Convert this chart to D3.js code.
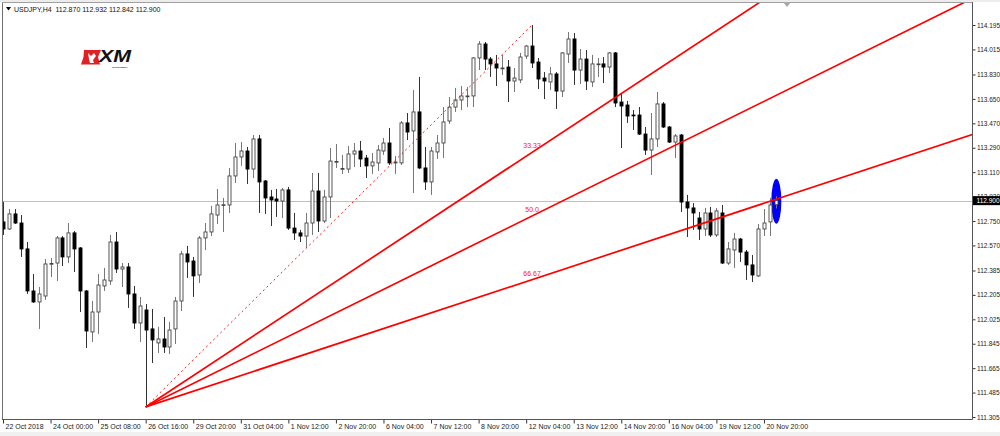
<!DOCTYPE html>
<html><head><meta charset="utf-8">
<script src="https://cdn.jsdelivr.net/npm/d3@7"></script>
<style>
html,body{margin:0;padding:0;background:#fff;overflow:hidden}
svg{display:block}
text{font-family:"Liberation Sans",Arial,sans-serif}
</style>
</head><body>
<svg id="c" width="1000" height="436"></svg>
<script>
// ---------------- DATA ----------------
const symbol = "USDJPY,H4";
const opens = [
112.743,112.691,112.802,112.735,112.544,112.234,112.153,112.197,112.433,112.440,
112.625,112.485,112.662,112.551,112.234,111.932,112.079,112.271,112.308,112.595,
112.396,112.411,112.212,111.998,112.094,111.954,111.851,111.880,111.821,111.954,
112.160,112.507,112.455,112.352,112.625,112.669,112.794,112.865,112.868,113.082,
113.222,113.266,113.133,113.355,113.045,112.927,112.912,112.897,112.979,112.698,
112.662,112.639,112.735,112.971,112.750,112.927,113.185,113.133,113.133,113.244,
113.266,113.214,113.156,113.178,113.266,113.325,113.178,113.178,113.473,113.414,
113.554,113.141,113.038,113.259,113.325,113.487,113.590,113.642,113.668,113.672,
113.952,114.055,113.944,113.908,113.874,113.885,113.782,113.790,113.966,114.040,
113.922,113.804,113.775,113.834,113.708,113.981,114.092,113.863,113.944,113.775,
113.904,113.908,113.885,113.989,113.627,113.605,113.531,113.531,113.391,113.273,
113.355,113.613,113.443,113.332,113.384,112.890,112.846,112.772,112.691,112.809,
112.647,112.809,112.440,112.536,112.617,112.521,112.426,112.345,112.691,112.743,
112.870];
const highs = [
112.890,112.838,112.838,112.794,112.595,112.359,112.263,112.470,112.477,112.639,
112.639,112.735,112.676,112.558,112.241,112.160,112.359,112.404,112.647,112.669,
112.440,112.440,112.271,112.190,112.138,112.101,111.969,112.042,112.005,112.190,
112.529,112.566,112.485,112.639,112.735,112.861,112.986,112.920,113.141,113.325,
113.332,113.296,113.384,113.384,113.052,112.979,112.986,112.993,113.001,112.809,
112.684,112.809,113.104,113.104,112.979,113.288,113.318,113.237,113.303,113.325,
113.340,113.237,113.251,113.310,113.362,113.436,113.229,113.487,113.546,113.716,
113.812,113.296,113.296,113.384,113.590,113.664,113.731,113.745,113.738,113.959,
114.077,114.070,113.959,113.974,113.974,113.937,113.878,113.989,114.048,114.195,
113.952,113.848,113.885,113.848,113.996,114.143,114.136,114.018,114.011,113.974,
113.952,113.959,113.996,113.996,113.694,113.635,113.568,113.590,113.443,113.546,
113.701,113.627,113.450,113.391,113.391,112.942,112.883,112.816,112.846,112.853,
112.846,112.868,112.595,112.662,112.625,112.536,112.499,112.728,112.838,112.920,
112.932];
const lows = [
112.647,112.684,112.728,112.485,112.212,112.146,111.954,112.168,112.337,112.308,
112.418,112.440,112.374,112.079,111.814,111.858,111.917,112.234,112.278,112.367,
112.263,112.109,111.954,111.858,111.379,111.703,111.777,111.777,111.769,111.843,
112.086,112.330,112.190,112.293,112.536,112.639,112.728,112.669,112.809,113.030,
113.156,113.023,113.067,112.809,112.802,112.713,112.780,112.772,112.684,112.610,
112.595,112.551,112.647,112.669,112.735,112.772,113.141,113.097,113.104,113.148,
113.148,113.067,113.097,113.119,113.237,113.163,113.097,113.163,113.347,112.956,
113.133,112.979,112.942,113.207,113.214,113.465,113.554,113.568,113.590,113.590,
113.863,113.863,113.812,113.745,113.826,113.627,113.701,113.767,113.944,113.878,
113.723,113.649,113.716,113.576,113.664,113.915,113.753,113.760,113.716,113.738,
113.812,113.767,113.841,113.590,113.288,113.473,113.421,113.384,113.237,113.089,
113.296,113.436,113.325,113.214,112.816,112.632,112.684,112.610,112.639,112.632,
112.632,112.433,112.426,112.404,112.448,112.315,112.300,112.337,112.639,112.639,
112.842];
const closes = [
112.691,112.802,112.735,112.544,112.234,112.153,112.212,112.433,112.437,112.625,
112.485,112.662,112.544,112.234,111.939,112.079,112.278,112.315,112.595,112.396,
112.411,112.212,111.998,112.123,111.946,111.873,111.880,111.821,111.946,112.160,
112.507,112.448,112.345,112.625,112.669,112.802,112.868,112.870,113.082,113.222,
113.266,113.133,113.355,113.038,112.920,112.905,112.897,112.979,112.698,112.662,
112.639,112.735,112.971,112.750,112.927,113.192,113.189,113.137,113.244,113.266,
113.207,113.156,113.185,113.273,113.325,113.178,113.185,113.473,113.406,113.554,
113.141,113.038,113.266,113.325,113.480,113.590,113.642,113.672,113.672,113.952,
114.055,113.944,113.908,113.878,113.878,113.782,113.804,113.959,114.040,113.915,
113.797,113.782,113.834,113.708,113.989,114.092,113.863,113.944,113.782,113.908,
113.908,113.885,113.989,113.620,113.598,113.524,113.528,113.391,113.273,113.355,
113.613,113.443,113.332,113.377,112.890,112.846,112.809,112.691,112.809,112.647,
112.824,112.440,112.544,112.617,112.521,112.426,112.352,112.691,112.735,112.868,
112.900];
const xTickBars = [0,8,16,24,32,40,48,56,64,72,80,88,96,104,112,120,128];
const xTickLabels = ["22 Oct 2018","24 Oct 00:00","25 Oct 08:00","26 Oct 16:00","29 Oct 20:00",
 "31 Oct 04:00","1 Nov 12:00","2 Nov 20:00","6 Nov 04:00","7 Nov 12:00","8 Nov 20:00",
 "12 Nov 04:00","13 Nov 12:00","14 Nov 20:00","16 Nov 04:00","19 Nov 12:00","20 Nov 20:00"];
const yTickLabels = ["114.195","114.015","113.830","113.650","113.470","113.290","113.110",
 "112.930","112.750","112.570","112.385","112.205","112.025","111.845","111.665","111.485","111.305"];
const currentPrice = 112.900;
const fanLevels = [0.3333, 0.5, 0.6667];
const fanLevelLabels = ["33.33","50.0","66.67"];
const fanStart = {bar:24, price:111.379};
const fanEnd = {bar:89, price:114.195};
const markBar = 130;

// ---------------- LAYOUT ----------------
const P = {left:3, right:972, top:2, bottom:419};
const n = opens.length;
const x = d3.scaleLinear().domain([0, n-1]).range([3, 3 + 5.945*(n-1)]);
const y = d3.scaleLinear().domain([111.290, 114.3646]).range([P.bottom, P.top]);

const svg = d3.select("#c");
svg.append("rect").attr("width",1000).attr("height",436).attr("fill","#fff");
svg.append("rect").attr("x",0).attr("y",0).attr("width",1000).attr("height",2).attr("fill","#ececec");
svg.append("rect").attr("x",0).attr("y",432).attr("width",1000).attr("height",4).attr("fill","#f0f0f0");

const defs = svg.append("defs");
defs.append("clipPath").attr("id","plotclip").append("rect")
  .attr("x",P.left).attr("y",P.top).attr("width",P.right-P.left).attr("height",P.bottom-P.top);

const g = svg.append("g").attr("clip-path","url(#plotclip)");

// current price line
g.append("line").attr("x1",P.left).attr("x2",P.right)
  .attr("y1",Math.round(y(currentPrice))+0.5).attr("y2",Math.round(y(currentPrice))+0.5)
  .attr("stroke","#c0c0c0").attr("stroke-width",1);

// blue ellipse highlight (background object)
g.append("ellipse").attr("cx",x(markBar)+0.5).attr("cy",y(currentPrice)+0.5)
  .attr("rx",5).attr("ry",22.5).attr("fill","#0000ff");

// candles
const idx = d3.range(n);
const cg = g.append("g");
cg.selectAll("line.wick").data(idx).join("line").attr("class","wick")
  .attr("x1",i=>Math.round(x(i))+0.5).attr("x2",i=>Math.round(x(i))+0.5)
  .attr("y1",i=>y(highs[i])).attr("y2",i=>y(lows[i]))
  .attr("stroke",i=>closes[i]>=opens[i]?"#777":"#333").attr("stroke-width",1);
cg.selectAll("rect.body").data(idx).join("rect").attr("class","body")
  .attr("x",i=>Math.round(x(i))-1)
  .attr("width",3)
  .attr("y",i=>y(Math.max(opens[i],closes[i])))
  .attr("height",i=>Math.max(0.8, Math.abs(y(opens[i])-y(closes[i]))))
  .attr("fill",i=>closes[i]>=opens[i]?"#fff":"#000")
  .attr("stroke",i=>closes[i]>=opens[i]?"#444":"#000")
  .attr("stroke-width",0.9);

// Fibonacci fan
const fx1 = x(fanStart.bar), fy1 = y(fanStart.price);
const fx2 = x(fanEnd.bar), fy2 = y(fanEnd.price);
g.append("line").attr("x1",fx1).attr("y1",fy1).attr("x2",fx2).attr("y2",fy2)
  .attr("stroke","#ff0000").attr("stroke-width",0.9).attr("stroke-dasharray","2,3");
fanLevels.forEach((lv,k)=>{
  const lp = fanEnd.price - lv*(fanEnd.price - fanStart.price);
  const ly = y(lp);
  const slope = (ly - fy1)/(fx2 - fx1);
  const xe = 1100;
  g.append("line").attr("x1",fx1).attr("y1",fy1).attr("x2",xe).attr("y2",fy1 + slope*(xe-fx1))
    .attr("stroke","#ff0000").attr("stroke-width",1.7);
  g.append("text").attr("x",fx2).attr("y",ly-4).attr("text-anchor","middle")
    .attr("font-size","7px").attr("fill","#ff2020").text(fanLevelLabels[k]);
});

// borders
svg.append("line").attr("x1",P.left-0.5).attr("x2",P.left-0.5).attr("y1",P.top).attr("y2",P.bottom)
  .attr("stroke","#707070");
svg.append("line").attr("x1",P.left-1).attr("x2",P.right+1).attr("y1",P.top+0.5).attr("y2",P.top+0.5)
  .attr("stroke","#a0a0a0");

// right axis
const yAxis = d3.axisRight(y).tickValues(yTickLabels.map(Number))
  .tickFormat((d,i)=>yTickLabels[i]).tickSizeInner(3).tickSizeOuter(0).tickPadding(1.5);
const ya = svg.append("g").attr("transform",`translate(${P.right+0.5},0)`).call(yAxis);
ya.select(".domain").remove();
ya.selectAll("line").attr("stroke","#333");
ya.selectAll("text").attr("font-size","6.5px").attr("fill","#222")
  .attr("font-family","'Liberation Sans',Arial,sans-serif");
svg.append("line").attr("x1",P.right+0.5).attr("x2",P.right+0.5).attr("y1",P.top).attr("y2",P.bottom+0.5)
  .attr("stroke","#555");

// bottom axis
const xAxis = d3.axisBottom(x).tickValues(xTickBars)
  .tickFormat((d,i)=>xTickLabels[i]).tickSizeInner(4).tickSizeOuter(0).tickPadding(1);
const xa = svg.append("g").attr("transform",`translate(0,${P.bottom+0.5})`).call(xAxis);
xa.select(".domain").remove();
xa.selectAll("line").attr("stroke","#333");
xa.selectAll("text").attr("font-size","7px").attr("fill","#222").attr("text-anchor","start")
  .attr("dx","2px").attr("font-family","'Liberation Sans',Arial,sans-serif");
svg.append("line").attr("x1",P.left-1).attr("x2",P.right+0.5).attr("y1",P.bottom+0.5).attr("y2",P.bottom+0.5)
  .attr("stroke","#555");

// current price tag
const cy = y(currentPrice);
svg.append("rect").attr("x",P.right+1).attr("y",cy-4.5).attr("width",27).attr("height",9).attr("fill","#000");
svg.append("text").attr("x",P.right+4.5).attr("y",cy+2.4).attr("font-size","6.5px").attr("fill","#fff")
  .text(d3.format(".3f")(currentPrice));

// header
svg.append("path").attr("d","M6,7 L11,7 L8.5,10.5 Z").attr("fill","#000");
svg.append("text").attr("x",14).attr("y",11.5).attr("font-size","7px").attr("fill","#111")
  .attr("xml:space","preserve")
  .text(`${symbol}  ${d3.format(".3f")(opens[n-1])} ${d3.format(".3f")(highs[n-1])} ${d3.format(".3f")(lows[n-1])} ${d3.format(".3f")(closes[n-1])}`);

// chart shift marker
svg.append("path").attr("d","M783,2 L791,2 L787,7 Z").attr("fill","#a8a8a8");

// XM logo
const logo = svg.append("g");
logo.append("path").attr("d","M84,50 L101,50 L98,57 L100,64.5 L81,64.5 L83.5,57 Z").attr("fill","#e31e24");
logo.append("path").attr("d","M88,53 L91,56 L94,53 L96,56 L93,60 L94,63 L90,63 L89,59 Z").attr("fill","#fff");
logo.append("text").attr("x",99).attr("y",61.5).attr("font-size","16px").attr("font-weight","bold")
  .attr("font-style","italic").attr("fill","#111")
  .attr("textLength",32).attr("lengthAdjust","spacingAndGlyphs").text("XM");
logo.append("text").attr("x",112).attr("y",67.5).attr("font-size","2.4px").attr("fill","#333")
  .attr("font-weight","bold").text("INVESTMENT");
</script>
</body></html>
